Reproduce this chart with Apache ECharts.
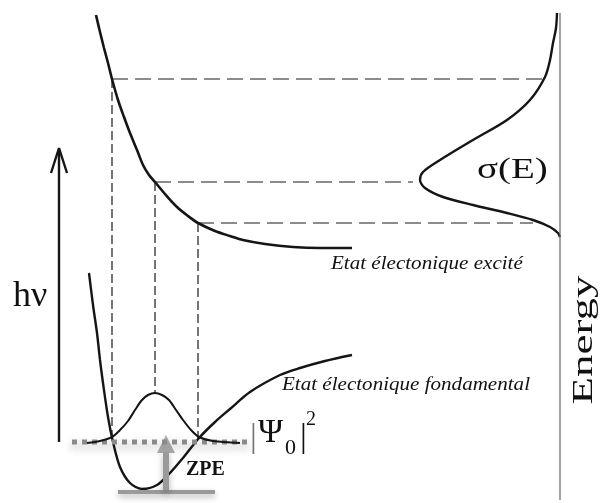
<!DOCTYPE html>
<html><head><meta charset="utf-8">
<script src="https://cdn.jsdelivr.net/npm/echarts@6/dist/echarts.min.js"></script>
<style>html,body{margin:0;padding:0;background:#fff}#c{width:605px;height:503px}</style>
</head><body><div id="c"></div>
<script>
// Coordinates: x = configuration axis (0..605), y = energy axis (0 top .. 503 bottom)
const excitedState = [[96,15],[100,32],[104,48],[108,63],[112,79],[118,100],[124,117],[130,133],[137,150],[143,165],[149,175],[155,182],[165,194],[177,207],[188,216],[198,223],[215,231],[230,236],[243,240],[265,244],[293,247],[320,248],[352,248]];
const groundState = [[89,273],[93,305],[97,333],[100,360],[103,383],[108,417],[113,442],[120,467],[130,483],[142,489],[157,485],[170,473],[183,458],[199,438],[215,422],[230,409],[250,392],[280,375],[300,368],[325,361],[352,355]];
const psiSquared = [[87,443],[100,441],[112,437],[120,430],[128,421],[135,410],[142,400],[148,395],[155,393],[162,395],[169,400],[176,410],[183,420],[191,430],[199,437],[213,441],[240,443]];
const sigmaE = [[557,13],[556,28],[553,43],[550,60],[545,77],[530,100],[507,120],[473,140],[440,160],[423,172],[420,180],[425,188],[443,197],[473,205],[507,213],[533,220],[550,227],[558,233],[560,237]];
const transitionX = [112,155,198];
const groundY = [437,393,438];
const excitedY = [79,182,223];
const sigmaX = [545,413,533];
const zpeLevel = [[72,442],[250,442]];
const zpeArrow = [[166,490],[166,452]];
const zpeArrowHead = [[166,444]];
const zpeBase = [[118,492],[215,492]];
const hvShaft = [[59,442],[59,152]];
const hvHead = [[51,173],[59,148],[67,173]];
const energyAxis = [[560,13],[560,500]];

const series = [];
const ink = '#151515';
function line(data, color, width, type, extra) {
  series.push(Object.assign({type:'line', data, showSymbol:false, symbol:'none', silent:true,
    lineStyle:{color, width, type: type||'solid', cap:'butt'}}, extra||{}));
}
for (let i=0;i<3;i++){
  line([[transitionX[i],excitedY[i]],[sigmaX[i],excitedY[i]]], '#1a1a1a', 1.2, [16,7]);
  line([[transitionX[i],excitedY[i]],[transitionX[i],groundY[i]]], '#1a1a1a', 1.2, [9,4]);
}
line(excitedState, ink, 2.6, 'solid', {smooth:0.3});
line(groundState, ink, 2.4, 'solid', {smooth:0.3});
line(sigmaE, ink, 2.4, 'solid', {smooth:0.3});
line(energyAxis, '#666', 1.2);
line(hvShaft, ink, 2.4);
line(hvHead, ink, 2.4);
line(zpeLevel, '#8a8a8a', 5, [5,5], {lineStyle:{color:'#8a8a8a',width:5,type:[5,5],cap:'butt',shadowBlur:8,shadowColor:'rgba(0,0,0,0.35)',shadowOffsetY:4}});
line(psiSquared, ink, 2, 'solid', {smooth:0.3});
line(zpeBase, '#999', 4, 'solid', {lineStyle:{color:'#9a9a9a',width:4,cap:'butt',shadowBlur:6,shadowColor:'rgba(0,0,0,0.3)',shadowOffsetY:3}});
line(zpeArrow, '#999', 6, 'solid', {lineStyle:{color:'#9a9a9a',width:6,cap:'butt',shadowBlur:6,shadowColor:'rgba(0,0,0,0.3)',shadowOffsetY:3}});
series.push({type:'scatter', data:zpeArrowHead, symbol:'triangle', symbolSize:[18,18], silent:true,
  itemStyle:{color:'#9a9a9a'}});

const serif = '"Liberation Serif","DejaVu Serif",serif';
function txt(text, x, y, size, opts){
  opts = opts||{};
  return {type:'text', x, y, rotation: opts.rot||0, scaleX: opts.sx||1, scaleY: opts.sy||1, silent:true,
    style:{text, x:0, y:0, font:(opts.style||'')+' '+size+'px '+serif, fill: opts.fill||'#111',
      textAlign: opts.align||'left', textVerticalAlign:'middle'}};
}
const graphics = [
  txt('hν', 13, 297, 36),
  txt('σ(E)', 477, 170, 30, {sx:1.3}),
  txt('Energy', 584, 340, 29, {rot:Math.PI/2, align:'center', sx:1.55}),
  txt('Etat électonique excité', 331, 264, 18, {style:'italic', sx:1.17}),
  txt('Etat électonique fondamental', 282, 385, 18, {style:'italic', sx:1.17}),
  txt('|', 250, 438, 34, {fill:'#777'}),
  txt('Ψ', 258, 433, 34),
  txt('0', 285, 448, 22),
  txt('|', 300, 438, 34),
  txt('2', 306, 420, 20),
  txt('ZPE', 186, 470, 20, {style:'bold'})
];

const chart = echarts.init(document.getElementById('c'), null, {renderer:'canvas'});
chart.setOption({
  animation:false,
  backgroundColor:'#fff',
  grid:{left:0,right:0,top:0,bottom:0},
  xAxis:{type:'value',min:0,max:605,show:false},
  yAxis:{type:'value',min:0,max:503,inverse:true,show:false},
  series,
  graphic:graphics
});
</script></body></html>
